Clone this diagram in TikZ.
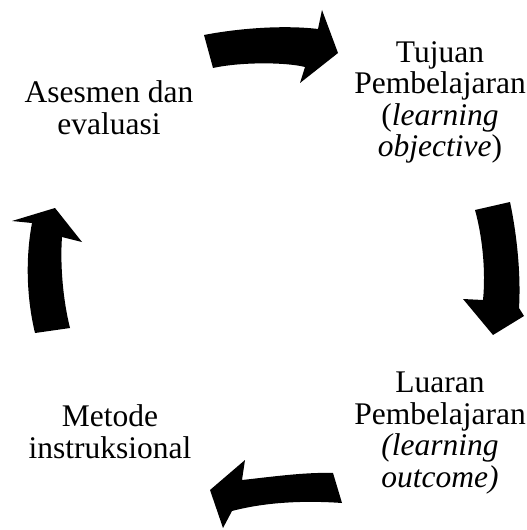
\documentclass[tikz,border=0pt]{standalone}
\usepackage{fontspec}
\setmainfont{Liberation Serif}
\begin{document}
\begin{tikzpicture}[x=1bp,y=-1bp,
  lbl/.style={align=center,inner sep=0pt,anchor=base,font=\fontsize{31.5bp}{#1}\selectfont},
  lbl/.default=31.5bp,
  blk/.style={fill=black,draw=none}]
\useasboundingbox (0,0) rectangle (527,530);
\node[lbl] (tujuan) at (440,157) {Tujuan\\Pembelajaran\\(\textit{learning}\\\textit{objective})};
\node[lbl] (luaran) at (440,487) {Luaran\\Pembelajaran\\\textit{(learning}\\\textit{outcome)}};
\node[lbl=32bp] (asesmen) at (109,135) {Asesmen dan\\evaluasi};
\node[lbl=32bp] (metode) at (110,458) {Metode\\instruksional};
% top arrow
\fill[blk] (204,35) .. controls (240,28) and (285,25) .. (318,29) -- (322,10) -- (338,53) -- (300,83) -- (305,67)
  .. controls (285,62) and (240,62) .. (213,68) -- cycle;
% right arrow
\fill[blk] (475,210) -- (510,202) .. controls (517,235) and (521,275) .. (519,308) -- (524,316) -- (493,335) -- (463,299) -- (483,300)
  .. controls (486,270) and (482,235) .. (475,210) -- cycle;
% bottom arrow
\fill[blk] (333,473) -- (342,503) .. controls (300,500) and (262,503) .. (232,511) -- (223,528) -- (210,490) -- (245,460) -- (242,480)
  .. controls (270,477) and (305,472) .. (333,473) -- cycle;
% left arrow
\fill[blk] (35,333) .. controls (27,300) and (25,260) .. (32,223) -- (12,221) -- (55,208) -- (82,242) -- (62,237)
  .. controls (60,265) and (63,300) .. (70,328) -- cycle;
\end{tikzpicture}
\end{document}
